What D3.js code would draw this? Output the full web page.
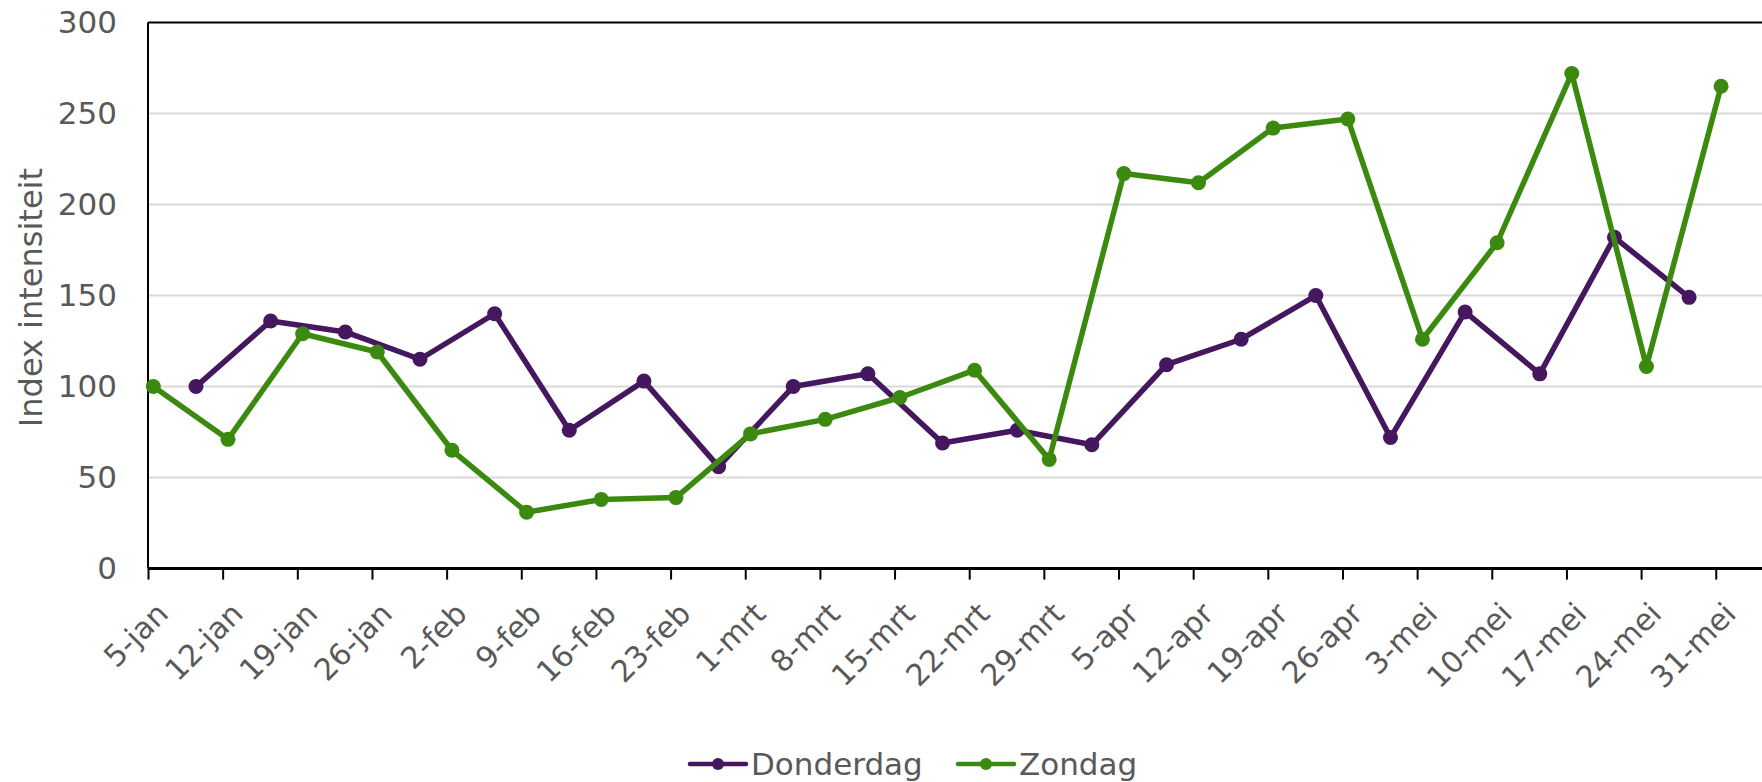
<!DOCTYPE html>
<html>
<head>
<meta charset="utf-8">
<script src="https://cdn.jsdelivr.net/npm/d3@7"></script>
<style>
  body { margin: 0; background: #fff; }
  svg text { font-family: Verdana, "DejaVu Sans", sans-serif; }
</style>
</head>
<body>
<div id="chart"></div>
<script>
// Weekly tick labels (Sundays)
const tickLabels = ["5-jan", "12-jan", "19-jan", "26-jan", "2-feb", "9-feb", "16-feb", "23-feb",
  "1-mrt", "8-mrt", "15-mrt", "22-mrt", "29-mrt", "5-apr", "12-apr", "19-apr", "26-apr",
  "3-mei", "10-mei", "17-mei", "24-mei", "31-mei"];

const zondagDates = ["2020-01-05", "2020-01-12", "2020-01-19", "2020-01-26", "2020-02-02", "2020-02-09",
  "2020-02-16", "2020-02-23", "2020-03-01", "2020-03-08", "2020-03-15", "2020-03-22", "2020-03-29",
  "2020-04-05", "2020-04-12", "2020-04-19", "2020-04-26", "2020-05-03", "2020-05-10", "2020-05-17",
  "2020-05-24", "2020-05-31"];
const zondagValues = [100, 71, 129, 119, 65, 31, 38, 39, 74, 82, 94, 109, 60,
  217, 212, 242, 247, 126, 179, 272, 111, 265];

const donderdagDates = ["2020-01-09", "2020-01-16", "2020-01-23", "2020-01-30", "2020-02-06", "2020-02-13",
  "2020-02-20", "2020-02-27", "2020-03-05", "2020-03-12", "2020-03-19", "2020-03-26", "2020-04-02",
  "2020-04-09", "2020-04-16", "2020-04-23", "2020-04-30", "2020-05-07", "2020-05-14", "2020-05-21",
  "2020-05-28"];
const donderdagValues = [100, 136, 130, 115, 140, 76, 103, 56, 100, 107, 69, 76, 68,
  112, 126, 150, 72, 141, 107, 182, 149];

const yTicks = [0, 50, 100, 150, 200, 250, 300];

const parse = d3.timeParse("%Y-%m-%d");
const tickDates = zondagDates.map(parse);

const series = [
  { name: "Donderdag", color: "#44175f", dates: donderdagDates, values: donderdagValues },
  { name: "Zondag", color: "#3b8a0f", dates: zondagDates, values: zondagValues }
];

const width = 1762, height = 782;
const plotLeft = 148, plotTop = 22.5, plotBottom = 568.6;
const dayWidth = 10.665;

const svg = d3.select("#chart").append("svg")
  .attr("width", width)
  .attr("height", height);

const start = parse("2020-01-05");
const end = parse("2020-06-04");
const x = d3.scaleTime()
  .domain([start, end])
  .range([plotLeft, plotLeft + d3.timeDay.count(start, end) * dayWidth]);

const y = d3.scaleLinear()
  .domain([0, 300])
  .range([plotBottom, plotTop]);

// grid lines
svg.append("g")
  .selectAll("line")
  .data(yTicks.filter(d => d > 0 && d < 300))
  .join("line")
  .attr("x1", plotLeft)
  .attr("x2", width)
  .attr("y1", d => y(d))
  .attr("y2", d => y(d))
  .attr("stroke", "#d9d9d9")
  .attr("stroke-width", 2);

// frame: top and left
svg.append("line")
  .attr("x1", plotLeft).attr("x2", width)
  .attr("y1", y(300)).attr("y2", y(300))
  .attr("stroke", "#000").attr("stroke-width", 2);
svg.append("line")
  .attr("x1", plotLeft).attr("x2", plotLeft)
  .attr("y1", y(300)).attr("y2", plotBottom)
  .attr("stroke", "#000").attr("stroke-width", 2);

// X axis
const xAxis = svg.append("g")
  .attr("transform", `translate(0,${plotBottom})`)
  .call(d3.axisBottom(x)
    .tickValues(tickDates)
    .tickSize(11)
    .tickSizeOuter(0)
    .tickFormat(""));
xAxis.select(".domain").attr("stroke-width", 3).attr("d", `M${plotLeft},0H${width}`);
xAxis.selectAll(".tick line").attr("stroke-width", 2);

svg.append("g")
  .selectAll("text")
  .data(tickDates)
  .join("text")
  .attr("transform", d => `translate(${x(d) + 22},${plotBottom + 47}) rotate(-45)`)
  .attr("text-anchor", "end")
  .attr("font-size", 30)
  .attr("fill", "#595959")
  .text((d, i) => tickLabels[i]);

// Y axis labels
const yAxis = svg.append("g")
  .attr("transform", `translate(${plotLeft},0)`)
  .call(d3.axisLeft(y)
    .tickValues(yTicks)
    .tickSize(0)
    .tickPadding(31));
yAxis.select(".domain").remove();
yAxis.selectAll("text")
  .attr("font-size", 31)
  .attr("font-family", 'Verdana, "DejaVu Sans", sans-serif')
  .attr("fill", "#595959");

svg.append("text")
  .attr("transform", `translate(31,${(plotTop + plotBottom) / 2 + 2}) rotate(-90)`)
  .attr("text-anchor", "middle")
  .attr("dy", "0.35em")
  .attr("font-size", 32)
  .attr("fill", "#595959")
  .text("Index intensiteit");

// lines
const line = d3.line()
  .x(d => x(d3.timeHour.offset(d.date, 12)))
  .y(d => y(d.value));

series.forEach(s => {
  const pts = s.dates.map((d, i) => ({ date: parse(d), value: s.values[i] }));
  const g = svg.append("g");
  g.append("path")
    .datum(pts)
    .attr("fill", "none")
    .attr("stroke", s.color)
    .attr("stroke-width", 5.5)
    .attr("stroke-linejoin", "round")
    .attr("d", line);
  g.selectAll("circle")
    .data(pts)
    .join("circle")
    .attr("cx", d => x(d3.timeHour.offset(d.date, 12)))
    .attr("cy", d => y(d.value))
    .attr("r", 7.5)
    .attr("fill", s.color);
});

// legend
const legendY = 764;
const legendX = [690, 958];
series.forEach((s, i) => {
  const g = svg.append("g").attr("transform", `translate(${legendX[i]},${legendY})`);
  g.append("line")
    .attr("x1", 0).attr("x2", 56)
    .attr("stroke", s.color).attr("stroke-width", 4.5)
    .attr("stroke-linecap", "round");
  g.append("circle")
    .attr("cx", 28).attr("r", 6)
    .attr("fill", s.color);
  g.append("text")
    .attr("x", 61)
    .attr("dy", "0.35em")
    .attr("font-size", 31)
    .attr("fill", "#595959")
    .text(s.name);
});
</script>
</body>
</html>
